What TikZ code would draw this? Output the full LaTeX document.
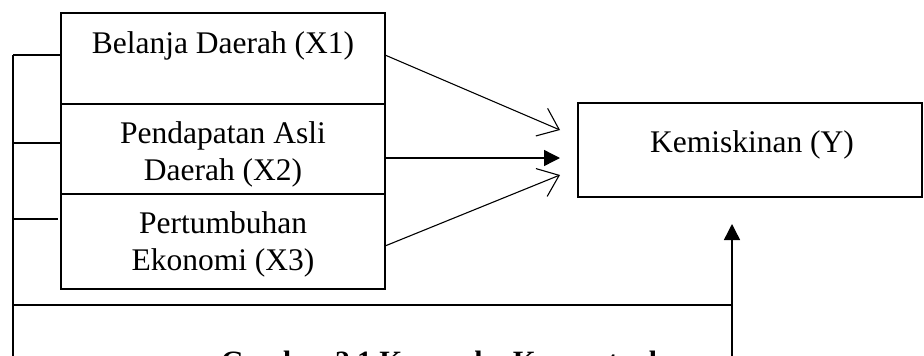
\documentclass[tikz,border=0pt]{standalone}
\usepackage{fontspec}
\setmainfont{Liberation Serif}
\usetikzlibrary{arrows.meta}

\begin{document}
\begin{tikzpicture}[x=1pt,y=-1pt,
  box/.style={draw, line width=1.6pt, inner sep=0pt, outer sep=0pt},
  lbl/.style={anchor=base, inner sep=0pt, font=\fontsize{31.5}{36}\selectfont},
  link/.style={line width=1.5pt},
  thin/.style={line width=1.1pt},
  openhead/.style={thin, -{Straight Barb[length=19pt,width=30pt,line width=1.1pt]}},
  solidhead/.style={line width=1.4pt, -{Triangle[length=16pt,width=16pt]}}]
\useasboundingbox (0,0) rectangle (924,356);
\clip (0,0) rectangle (924,356);

% independent variables, stacked boxes
\node[box, minimum width=324pt, minimum height=91pt] (x1) at (223,58.5) {};
\node[box, minimum width=324pt, minimum height=90pt] (x2) at (223,149) {};
\node[box, minimum width=324pt, minimum height=95pt] (x3) at (223,241.5) {};
\node[lbl] (t1) at (223,53) {Belanja Daerah (X1)};
\node[lbl] (t2a) at (223,143) {Pendapatan Asli};
\node[lbl] (t2b) at (223,180) {Daerah (X2)};
\node[lbl] (t3a) at (223,233) {Pertumbuhan};
\node[lbl] (t3b) at (223,270) {Ekonomi (X3)};

% dependent variable
\node[box, minimum width=344pt, minimum height=94pt] (y) at (750,150) {};
\node[lbl] (ty) at (752,152) {Kemiskinan (Y)};

% caption below the figure
\node[anchor=base west, inner sep=0pt, font=\fontsize{29.5}{34}\selectfont\bfseries] (cap) at (221,371) {Gambar 2.1 Kerangka Konseptual};

% arrow end points in front of the dependent box
\coordinate (a1) at (560,130);
\coordinate (a2) at (560,158);
\coordinate (a3) at (560,175);
\draw[openhead] (x1.east |- 0,55) -- (a1);
\draw[solidhead] (x2.east |- 0,158) -- (a2);
\draw[openhead] (x3.east |- 0,246) -- (a3);

% joint-effect bracket on the left and below
\coordinate (l0) at (13,55);
\coordinate (lb) at (13,360);
\coordinate (lc) at (13,305);
\coordinate (rc) at (732,305);
\coordinate (rb) at (732,360);
\coordinate (tip) at (732,224);
\draw[link] (l0) -- (lb);
\draw[link] (l0) -- (x1.west |- l0);
\draw[link] (13,143) -- (x2.west |- 0,143);
\draw[link] (13,219) -- (58,219);
\draw[thin] (lc) -- (rc);
\draw[solidhead] (rb) -- (tip);
\end{tikzpicture}
\end{document}
